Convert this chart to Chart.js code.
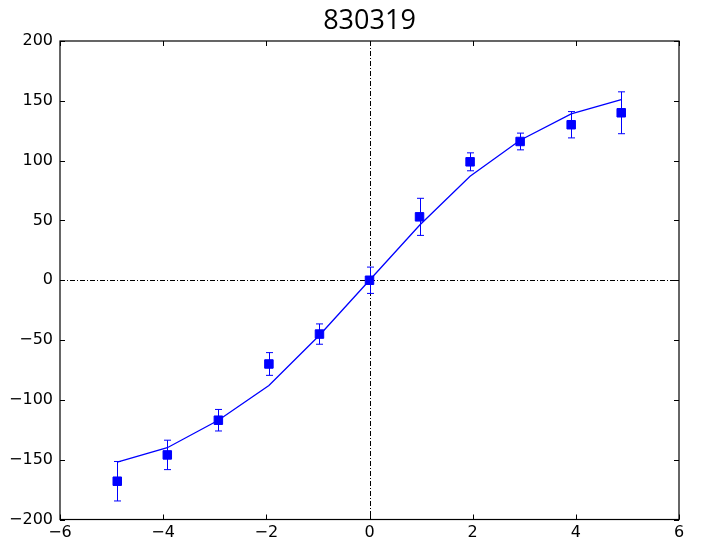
<!DOCTYPE html>
<html><head><meta charset="utf-8">
<title>830319</title>
<script src="https://cdn.jsdelivr.net/npm/chart.js@4.4.7/dist/chart.umd.min.js"></script>
<style>html,body{margin:0;padding:0;background:#fff}#wrap{width:701px;height:548px}</style>
</head><body>
<div id="wrap"><canvas id="chart" width="701" height="548"></canvas></div>
<script>
// 830319 - measured points with error bars and model curve
var TITLE = '830319';
var X_VALS = [-4.89, -3.92, -2.93, -1.95, -0.97, 0, 0.97, 1.95, 2.92, 3.91, 4.88];
var MEASURED = [-168, -146, -117, -70, -45, 0, 53, 99, 116, 130, 140];
var ERRORS = [16.5, 12.3, 9, 9.5, 8.5, 11, 15.5, 7.5, 7, 11, 17.5];
var MODEL = [-152, -140, -117, -88, -46, 0, 46, 87, 117, 139, 151];
var X_TICKS = [-6, -4, -2, 0, 2, 4, 6];
var Y_TICKS = [-200, -150, -100, -50, 0, 50, 100, 150, 200];

var BLUE = '#0000ff';

function fmt(v) { return v < 0 ? '\u2212' + Math.abs(v) : '' + v; }

var pts = function(ys) {
  return X_VALS.map(function(x, i) { return {x: x, y: ys[i]}; });
};

// error bars, zero lines, frame and inward ticks
var decor = {
  id: 'decor',
  beforeDatasetsDraw: function(chart) {
    var ctx = chart.ctx, xs = chart.scales.x, ys = chart.scales.y, a = chart.chartArea;
    ctx.save();
    // dash-dot zero lines
    ctx.strokeStyle = '#000';
    ctx.lineWidth = 1;
    ctx.setLineDash([5, 2, 1, 2]);
    ctx.beginPath();
    var y0 = Math.round(ys.getPixelForValue(0)) + 0.5;
    ctx.moveTo(a.left, y0); ctx.lineTo(a.right, y0);
    var x0 = Math.round(xs.getPixelForValue(0)) + 0.5;
    ctx.moveTo(x0, a.top); ctx.lineTo(x0, a.bottom);
    ctx.stroke();
    ctx.setLineDash([]);
    // error bars
    ctx.strokeStyle = BLUE;
    ctx.lineWidth = 1;
    for (var i = 0; i < X_VALS.length; i++) {
      var px = Math.round(xs.getPixelForValue(X_VALS[i])) + 0.5;
      var top = ys.getPixelForValue(MEASURED[i] + ERRORS[i]);
      var bot = ys.getPixelForValue(MEASURED[i] - ERRORS[i]);
      ctx.beginPath();
      ctx.moveTo(px, top); ctx.lineTo(px, bot);
      ctx.moveTo(px - 3.5, top); ctx.lineTo(px + 3.5, top);
      ctx.moveTo(px - 3.5, bot); ctx.lineTo(px + 3.5, bot);
      ctx.stroke();
    }
    ctx.restore();
  },
  afterDraw: function(chart) {
    var ctx = chart.ctx, xs = chart.scales.x, ys = chart.scales.y, a = chart.chartArea;
    ctx.save();
    ctx.strokeStyle = '#000';
    ctx.lineWidth = 1;
    ctx.beginPath();
    X_TICKS.forEach(function(v) {
      var px = Math.round(xs.getPixelForValue(v)) + 0.5;
      ctx.moveTo(px, a.bottom); ctx.lineTo(px, a.bottom - 5);
      ctx.moveTo(px, a.top); ctx.lineTo(px, a.top + 5);
    });
    Y_TICKS.forEach(function(v) {
      var py = Math.round(ys.getPixelForValue(v)) + 0.5;
      ctx.moveTo(a.left, py); ctx.lineTo(a.left + 5, py);
      ctx.moveTo(a.right, py); ctx.lineTo(a.right - 5, py);
    });
    ctx.stroke();
    ctx.lineWidth = 1.2;
    ctx.strokeRect(a.left, a.top, a.right - a.left, a.bottom - a.top);
    ctx.restore();
  }
};

new Chart(document.getElementById('chart').getContext('2d'), {
  type: 'scatter',
  data: {
    datasets: [
      {label: 'model', data: pts(MODEL), showLine: true, borderColor: BLUE, borderWidth: 1.3,
       pointRadius: 0, fill: false, tension: 0, order: 2},
      {label: 'measured', data: pts(MEASURED), showLine: false, pointStyle: 'rect', pointRadius: 6,
       backgroundColor: BLUE, borderColor: BLUE, borderWidth: 1, order: 1}
    ]
  },
  options: {
    responsive: false,
    animation: false,
    layout: {padding: {left: 0, right: 22, top: 0, bottom: 0}},
    plugins: {
      legend: {display: false},
      tooltip: {enabled: false},
      title: {display: true, text: TITLE, color: '#000', fullSize: false,
        font: {family: '"Open Sans", sans-serif', size: 27, weight: 'normal'},
        padding: {top: 5, bottom: 3.6}}
    },
    scales: {
      x: {
        type: 'linear', min: -6, max: 6,
        afterBuildTicks: function(s) { s.ticks = X_TICKS.map(function(v) { return {value: v}; }); },
        afterFit: function(s) { s.height = 28.5; },
        grid: {display: false, drawTicks: false},
        border: {display: false},
        ticks: {color: '#000', padding: 4, maxRotation: 0, autoSkip: false,
          font: {family: '"DejaVu Sans", sans-serif', size: 16}, callback: fmt}
      },
      y: {
        type: 'linear', min: -200, max: 200,
        afterBuildTicks: function(s) { s.ticks = Y_TICKS.map(function(v) { return {value: v}; }); },
        afterFit: function(s) { s.width = 60; },
        grid: {display: false, drawTicks: false},
        border: {display: false},
        ticks: {color: '#000', padding: 7, autoSkip: false,
          font: {family: '"DejaVu Sans", sans-serif', size: 16}, callback: fmt}
      }
    }
  },
  plugins: [decor]
});
</script>
</body></html>
